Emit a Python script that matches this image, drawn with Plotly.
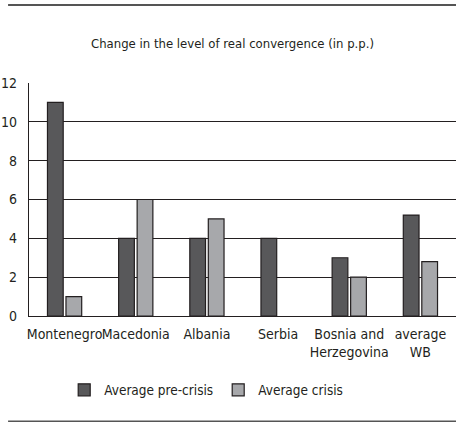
import plotly.graph_objects as go

categories = ["Montenegro", "Macedonia", "Albania", "Serbia", "Bosnia and<br>Herzegovina", "average<br>WB"]
pre_crisis = [11, 4, 4, 4, 3, 5.2]
crisis = [1, 6, 5, None, 2, 2.8]
y_ticks = [0, 2, 4, 6, 8, 10, 12]

FONT = "DejaVu Sans Condensed, Liberation Sans Narrow, sans-serif"

fig = go.Figure()
fig.add_trace(go.Bar(x=categories, y=pre_crisis, name="Average pre-crisis",
                     marker=dict(color="#58585a", line=dict(color="#231f20", width=1.2))))
fig.add_trace(go.Bar(x=categories, y=crisis, name="Average crisis",
                     marker=dict(color="#a7a8ab", line=dict(color="#231f20", width=1.2))))

fig.update_layout(
    width=456, height=422,
    margin=dict(l=29, r=0, t=83, b=106),
    paper_bgcolor="white", plot_bgcolor="white",
    font=dict(family=FONT, size=14, color="#231f20"),
    barmode="group", bargap=0.48, bargroupgap=0.15,
    showlegend=True,
    legend=dict(orientation="h", x=0.415, xanchor="center", y=-0.318, yanchor="middle",
                font=dict(size=13.5), itemwidth=30, traceorder="normal"),
    annotations=[dict(text="Change in the level of real convergence (in p.p.)",
                      xref="paper", yref="paper", x=(233-29)/428, y=(316-43)/233,
                      xanchor="center", yanchor="middle", showarrow=False,
                      font=dict(size=13, family=FONT, color="#231f20"))],
    shapes=[
        dict(type="line", xref="paper", yref="paper", x0=-0.049, x1=1.0,
             y0=(316-5)/233, y1=(316-5)/233, line=dict(color="#555555", width=2)),
        dict(type="line", xref="paper", yref="paper", x0=-0.049, x1=1.0,
             y0=(316-421.5)/233, y1=(316-421.5)/233, line=dict(color="#555555", width=2)),
    ],
)
fig.update_yaxes(range=[0, 12], tickvals=y_ticks, showgrid=True, gridcolor="#231f20",
                 gridwidth=1.4, showline=True, linecolor="#231f20", linewidth=1.4,
                 ticks="", ticklabelstandoff=8, zeroline=True, zerolinecolor="#231f20",
                 zerolinewidth=1.4, tickfont=dict(size=14), automargin=False)
fig.update_xaxes(showline=True, linecolor="#231f20", linewidth=1.4, ticks="",
                 ticklabelstandoff=5, tickfont=dict(size=14), tickangle=0, automargin=False)

fig.write_html("out.html", config={"displayModeBar": False},
               post_script="document.body.style.margin='0';document.body.style.overflow='hidden';")
